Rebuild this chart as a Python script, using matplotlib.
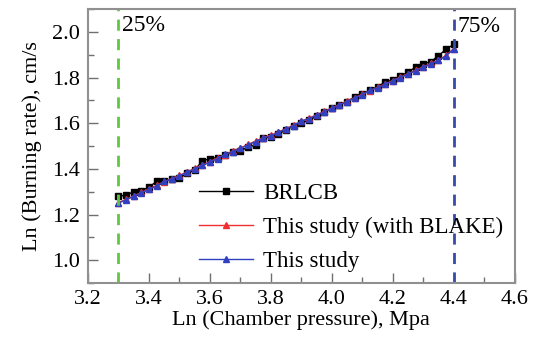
import matplotlib.pyplot as plt
from matplotlib.ticker import MultipleLocator, AutoMinorLocator

plt.rcParams['font.family'] = ['Liberation Serif', 'DejaVu Serif']

# Ln(chamber pressure)
ln_p = [3.300, 3.325, 3.350, 3.375, 3.400, 3.425, 3.450, 3.475, 3.500, 3.525,
        3.550, 3.575, 3.600, 3.625, 3.650, 3.675, 3.700, 3.725, 3.750, 3.775,
        3.800, 3.825, 3.850, 3.875, 3.900, 3.925, 3.950, 3.975, 4.000, 4.025,
        4.050, 4.075, 4.100, 4.125, 4.150, 4.175, 4.200, 4.225, 4.250, 4.275,
        4.300, 4.325, 4.350, 4.375, 4.400]

# Ln(burning rate)
brlcb = [1.280, 1.285, 1.300, 1.305, 1.320, 1.345, 1.345, 1.355, 1.360, 1.380,
         1.395, 1.435, 1.445, 1.450, 1.460, 1.475, 1.480, 1.495, 1.505, 1.535,
         1.540, 1.555, 1.570, 1.590, 1.600, 1.615, 1.630, 1.650, 1.665, 1.680,
         1.695, 1.715, 1.730, 1.745, 1.760, 1.780, 1.790, 1.805, 1.825, 1.845,
         1.860, 1.870, 1.895, 1.925, 1.945]
blake = [1.252, 1.267, 1.282, 1.297, 1.312, 1.328, 1.344, 1.358, 1.372, 1.387,
         1.402, 1.417, 1.432, 1.448, 1.463, 1.478, 1.492, 1.507, 1.522, 1.537,
         1.548, 1.562, 1.577, 1.592, 1.608, 1.622, 1.637, 1.652, 1.667, 1.682,
         1.697, 1.712, 1.727, 1.743, 1.757, 1.772, 1.787, 1.802, 1.817, 1.832,
         1.847, 1.862, 1.877, 1.897, 1.927]
study = [1.250, 1.265, 1.280, 1.295, 1.310, 1.325, 1.345, 1.355, 1.370, 1.385,
         1.400, 1.415, 1.430, 1.445, 1.465, 1.475, 1.490, 1.505, 1.520, 1.535,
         1.545, 1.560, 1.575, 1.590, 1.610, 1.620, 1.635, 1.650, 1.665, 1.680,
         1.695, 1.710, 1.725, 1.745, 1.755, 1.770, 1.785, 1.800, 1.815, 1.830,
         1.845, 1.860, 1.875, 1.895, 1.925]

fig = plt.figure(figsize=(5.38, 3.37), dpi=100)
ax = fig.add_axes([0.1636, 0.160, 0.793, 0.813])

ax.plot(ln_p, brlcb, color='black', marker='s', markersize=4, lw=1, label='BRLCB')
ax.plot(ln_p, blake, color='#f03030', marker='^', markersize=4, lw=1,
        label='This study (with BLAKE)')
ax.plot(ln_p, study, color='#3040c0', marker='^', markersize=5, lw=1, label='This study')

ax.axvline(3.3, color='#60c840', ls=(0, (4, 3)), lw=2)
ax.axvline(4.4, color='#3a4aa8', ls=(0, (4, 3)), lw=2)
ax.text(3.312, 2.075, '25%', fontsize=17, va='top', ha='left')
ax.text(4.412, 2.07, '75%', fontsize=17, va='top', ha='left')

ax.set_xlim(3.2, 4.6)
ax.set_ylim(0.9, 2.1)
ax.xaxis.set_major_locator(MultipleLocator(0.2))
ax.yaxis.set_major_locator(MultipleLocator(0.2))
ax.xaxis.set_minor_locator(AutoMinorLocator(2))
ax.yaxis.set_minor_locator(AutoMinorLocator(2))
ax.tick_params(which='both', direction='in', top=False, right=False,
               color='#707070', labelsize=16)
ax.tick_params(which='major', length=7, width=1)
ax.tick_params(which='minor', length=4, width=1)
ax.tick_params(axis='x', which='major', pad=5)
ax.tick_params(axis='y', which='major', pad=6)
for s in ax.spines.values():
    s.set_color('#909090')
    s.set_linewidth(1.5)

ax.set_xlabel('Ln (Chamber pressure), Mpa', fontsize=16, labelpad=1)
ax.set_ylabel('Ln (Burning rate), cm/s', fontsize=16, labelpad=7)

ax.legend(loc='lower right', frameon=False, fontsize=16.5, handlelength=2.35,
          labelspacing=0.55, borderaxespad=0.1, handletextpad=0.45)

fig.savefig('out.png', dpi=100)
